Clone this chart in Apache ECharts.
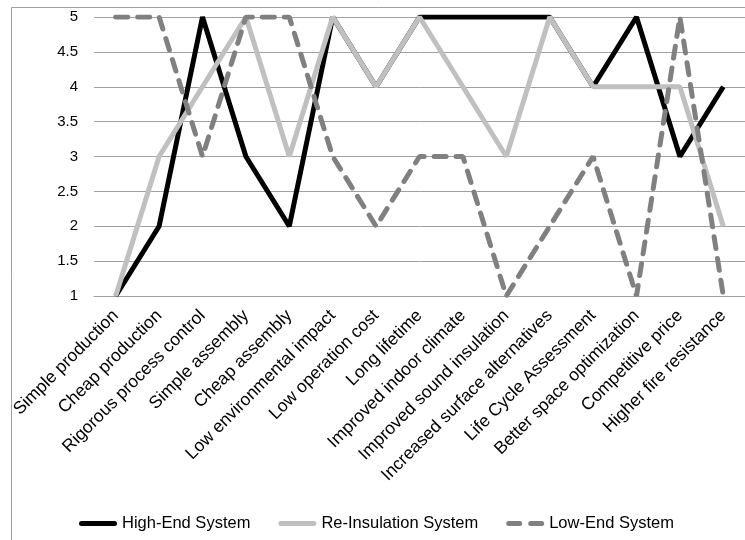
<!DOCTYPE html>
<html>
<head>
<meta charset="utf-8">
<script src="https://cdn.jsdelivr.net/npm/echarts@6/dist/echarts.min.js"></script>
<style>
html,body{margin:0;padding:0;background:#fff;}
#chart{width:745px;height:540px;}
</style>
</head>
<body>
<div id="chart"></div>
<script>
const categories = [
  'Simple production','Cheap production','Rigorous process control','Simple assembly',
  'Cheap assembly','Low environmental impact','Low operation cost','Long lifetime',
  'Improved indoor climate','Improved sound insulation','Increased surface alternatives',
  'Life Cycle Assessment','Better space optimization','Competitive price','Higher fire resistance'
];
const seriesNames  = ['High-End System', 'Re-Insulation System', 'Low-End System'];
const highEnd      = [1, 2, 5, 3, 2, 5, 4, 5, 5, 5, 5, 4, 5, 3, 4];
const reInsulation = [1, 3, 4, 5, 3, 5, 4, 5, 4, 3, 5, 4, 4, 4, 2];
const lowEnd       = [5, 5, 3, 5, 5, 3, 2, 3, 3, 1, 2, 3, 1, 5, 1];
const yTicks = { min: 1, max: 5, interval: 0.5 };

const FONT = "'Liberation Sans', Arial, sans-serif";
const solidIcon = 'path://M2.5,0 H35.5 A2.5,2.5 0 0 1 35.5,5 H2.5 A2.5,2.5 0 0 1 2.5,0 Z';
const dashIcon = 'path://M2.5,0 H13.5 A2.5,2.5 0 0 1 13.5,5 H2.5 A2.5,2.5 0 0 1 2.5,0 Z M24.5,0 H35.5 A2.5,2.5 0 0 1 35.5,5 H24.5 A2.5,2.5 0 0 1 24.5,0 Z';

const chart = echarts.init(document.getElementById('chart'), null, {renderer: 'canvas'});
chart.setOption({
  animation: false,
  backgroundColor: '#fff',
  textStyle: { fontFamily: FONT },
  graphic: [{
    type: 'rect', silent: true, z: -10,
    shape: { x: 11.5, y: 7.5, width: 800, height: 600 },
    style: { fill: 'none', stroke: '#a0a0a0', lineWidth: 1 }
  }],
  grid: { left: 94, top: 17, width: 656, height: 279, containLabel: false },
  xAxis: {
    type: 'category',
    data: categories,
    boundaryGap: true,
    axisLine: { lineStyle: { color: '#a0a0a0', width: 1 } },
    axisTick: { show: false },
    axisLabel: {
      interval: 0, rotate: 45, margin: 17,
      color: '#000', fontSize: 17.5, fontFamily: FONT
    }
  },
  yAxis: {
    type: 'value',
    min: yTicks.min, max: yTicks.max, interval: yTicks.interval,
    axisLine: { show: false },
    axisTick: { show: false },
    splitLine: { lineStyle: { color: '#a0a0a0', width: 1 } },
    axisLabel: { color: '#000', fontSize: 15, margin: 16, fontFamily: FONT }
  },
  legend: {
    left: 74, top: 510,
    itemWidth: 38, itemHeight: 5, itemGap: 28,
    textStyle: { color: '#000', fontSize: 16.5, fontFamily: FONT },
    data: [
      { name: seriesNames[0], icon: solidIcon },
      { name: seriesNames[1], icon: solidIcon },
      { name: seriesNames[2], icon: dashIcon }
    ]
  },
  series: [
    {
      name: seriesNames[0], type: 'line', data: highEnd,
      symbol: 'none', z: 3,
      itemStyle: { color: '#000' },
      lineStyle: { color: '#000', width: 5 }
    },
    {
      name: seriesNames[1], type: 'line', data: reInsulation,
      symbol: 'none', z: 4,
      itemStyle: { color: '#c0c0c0' },
      lineStyle: { color: '#c0c0c0', width: 5 }
    },
    {
      name: seriesNames[2], type: 'line', data: lowEnd,
      symbol: 'none', z: 5,
      itemStyle: { color: '#808080' },
      lineStyle: { color: '#808080', width: 5, type: [12, 10], cap: 'round' }
    }
  ]
});
</script>
</body>
</html>
